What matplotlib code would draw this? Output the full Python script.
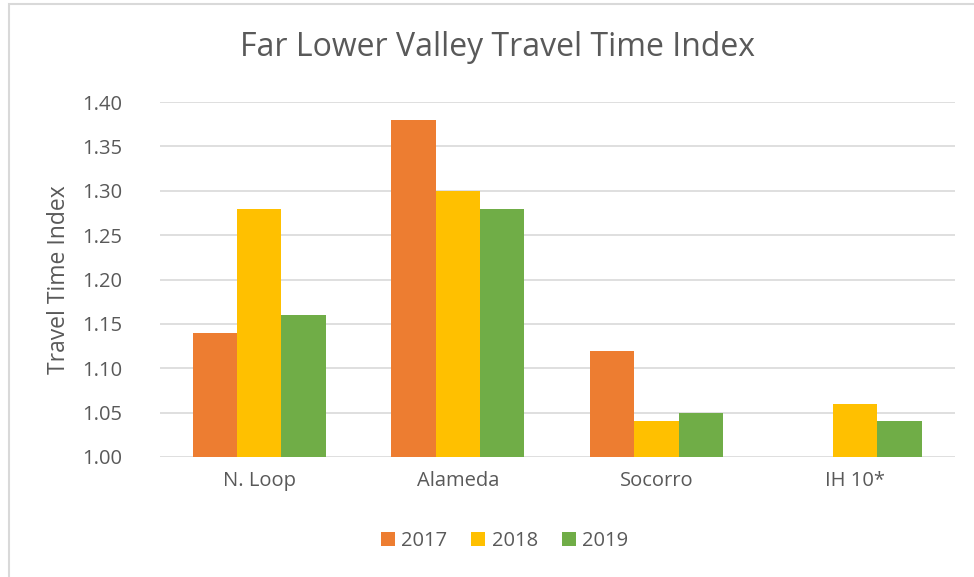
import numpy as np
import matplotlib
matplotlib.use("Agg")
import matplotlib.pyplot as plt
from matplotlib.patches import Rectangle

plt.rcParams['font.family'] = ['Open Sans', 'DejaVu Sans']

## data
categories = ["N. Loop", "Alameda", "Socorro", "IH 10*"]
years = ["2017", "2018", "2019"]
vals_2017 = [1.14, 1.38, 1.12, np.nan]
vals_2018 = [1.28, 1.30, 1.04, 1.06]
vals_2019 = [1.16, 1.28, 1.05, 1.04]
colors = ["#ED7D31", "#FFC000", "#70AD47"]

text_col = "#595959"
grid_col = "#D9D9D9"

fig = plt.figure(figsize=(9.74, 5.77), dpi=100)
ax = fig.add_axes([0.164, 0.208, 0.816, 0.615])

## chart border like excel
fig.patches.append(Rectangle((9/974, -0.1), 1.2, 1 - 4/577 + 0.1, transform=fig.transFigure,
                             fill=False, edgecolor=grid_col, linewidth=1.5))

x = np.arange(len(categories))
w = 0.223
series = [vals_2017, vals_2018, vals_2019]
for i, (vals, c, yr) in enumerate(zip(series, colors, years)):
    v = np.array(vals, dtype=float)
    ax.bar(x + (i - 1) * w, v - 1.0, w, bottom=1.0, color=c, label=yr, zorder=3)

ax.set_xlim(-0.5, len(categories) - 0.5)
ax.set_ylim(1.0, 1.4)
ticks = np.arange(1.0, 1.401, 0.05)
ax.set_yticks(ticks)
ax.set_yticklabels([f"{t:.2f}" for t in ticks])
ax.set_xticks(x)
ax.set_xticklabels(categories)
ax.yaxis.grid(True, color=grid_col, linewidth=1.2, zorder=0)
for s in ax.spines.values():
    s.set_visible(False)
ax.tick_params(length=0, colors=text_col, labelsize=14.5)
ax.tick_params(axis='y', pad=27)
ax.tick_params(axis='x', pad=10)

ax.set_ylabel("Travel Time Index", color=text_col, fontsize=16.5, labelpad=8)
fig.text(0.511, 0.918, "Far Lower Valley Travel Time Index", ha='center', va='center',
         fontsize=23, color=text_col)

fig.legend(loc='center', bbox_to_anchor=(0.518, 0.062), ncol=3, frameon=False,
           fontsize=14.5, labelcolor=text_col, handlelength=0.7, handleheight=0.7,
           handletextpad=0.3, columnspacing=1.2)

fig.savefig("out.png", dpi=100)
